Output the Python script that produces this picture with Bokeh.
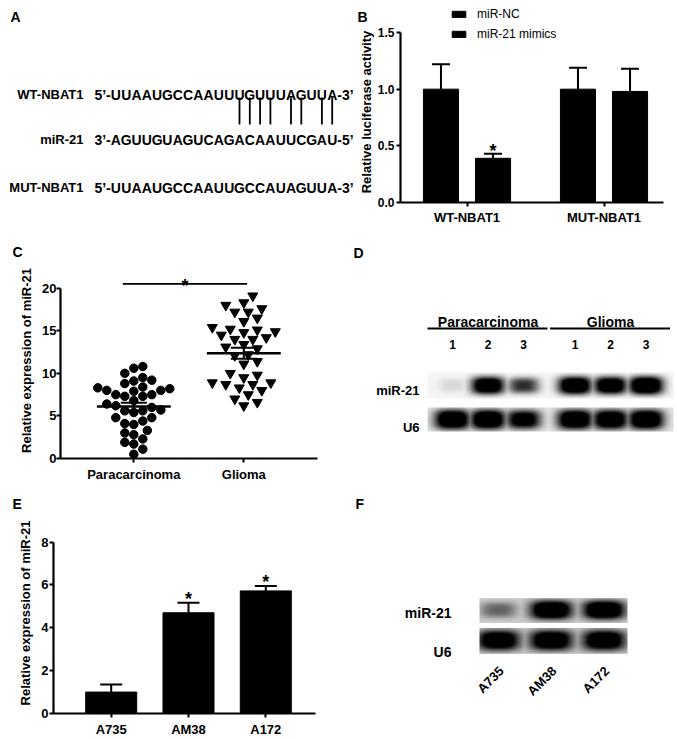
import numpy as np
from bokeh.plotting import figure
from bokeh.layouts import column, row
from bokeh.models import (Range1d, FixedTicker, Legend, LegendItem,
                          LinearColorMapper, PrintfTickFormatter)
from bokeh.palettes import Greys256
from bokeh.core.properties import value
from bokeh.embed import file_html
from bokeh.resources import INLINE

FONT = "Liberation Sans"
BLACK = "#000000"

# ---------------- data ----------------
# Panel A: sequences
a_names = ["WT-NBAT1", "miR-21", "MUT-NBAT1"]
a_prefix = ["5\u2019-", "3\u2019-", "5\u2019-"]
a_suffix = ["-3\u2019", "-5\u2019", "-3\u2019"]
a_seqs = ["UUAAUGCCAAUUUGUUUAGUUA",
          "AGUUGUAGUCAGACAAUUCGAU",
          "UUAAUGCCAAUUGCCAUAGUUA"]
a_pairs = [13, 14, 15, 16, 18, 19, 21, 22]

# Panel B: luciferase
b_groups = ["WT-NBAT1", "MUT-NBAT1"]
b_series = ["miR-NC", "miR-21 mimics"]
b_ylabel = "Relative luciferase activity"
b_nc = [1.00, 1.00]
b_nc_err = [0.22, 0.19]
b_mimic = [0.39, 0.98]
b_mimic_err = [0.04, 0.20]
b_mimic_star = [True, False]

# Panel C: tissue expression
c_groups = ["Paracarcinoma", "Glioma"]
c_para = [10.8, 10.6, 10.0, 9.5, 9.2, 9.1, 8.8, 8.2, 7.9, 8.3, 8.4, 8.0, 8.0,
          7.5, 7.3, 7.3, 7.5, 6.8, 6.4, 6.2, 5.7, 5.6, 6.0, 5.4, 5.6, 4.8,
          4.8, 4.4, 4.1, 4.0, 3.3, 3.0, 2.8, 2.3, 1.7, 1.9, 1.1, 0.5]
c_glioma = [19.1, 18.3, 18.0, 17.2, 17.6, 17.2, 16.5, 16.1, 15.4, 15.1, 15.2,
            14.8, 14.9, 14.2, 14.0, 14.0, 14.5, 12.9, 13.4, 13.1, 12.1, 12.2,
            11.1, 11.4, 9.8, 9.5, 10.0, 8.9, 8.7, 8.9, 8.3, 8.7, 8.0, 7.5,
            7.0, 6.6, 6.2]
c_mean = [6.1, 12.35]
c_sem = [0.45, 0.65]
c_sig_y = 20.5

# Panel D: northern blot (band intensities 0..1)
d_groups = ["Paracarcinoma", "Glioma"]
d_lanes = ["1", "2", "3", "1", "2", "3"]
d_rows = ["miR-21", "U6"]
d_mir21 = [0.08, 0.90, 0.55, 0.95, 0.90, 1.00]
d_u6 = [0.95, 0.95, 0.80, 0.95, 0.92, 0.95]

# Panel E: cell lines
e_cells = ["A735", "AM38", "A172"]
e_vals = [1.00, 4.70, 5.72]
e_err = [0.35, 0.47, 0.23]
e_star = [False, True, True]

# Panel F: northern blot of cell lines
f_cells = ["A735", "AM38", "A172"]
f_rows = ["miR-21", "U6"]
f_mir21 = [0.35, 1.00, 1.00]
f_u6 = [0.90, 0.92, 0.92]


# ---------------- helpers ----------------
def make_fig(w, h, xr, yr, left=0, right=0, top=0, bottom=0, axes=True):
    kw = {} if axes else dict(x_axis_type=None, y_axis_type=None)
    p = figure(width=w, height=h, x_range=xr, y_range=yr, output_backend="svg",
               toolbar_location=None, min_border_left=left, min_border_right=right,
               min_border_top=top, min_border_bottom=bottom, **kw)
    p.outline_line_color = None
    p.background_fill_color = "white"
    p.border_fill_color = "white"
    if axes:
        p.xgrid.visible = False
        p.ygrid.visible = False
    return p


def txt(p, x, y, t, size="13px", align="left", baseline="alphabetic",
        angle=0.0, bold=True, y_offset=0):
    p.text(x=x, y=y, text=t, text_font=value(FONT), text_font_size=value(size),
           text_font_style="bold" if bold else "normal", text_align=align,
           text_baseline=baseline, angle=angle, text_color=BLACK, y_offset=y_offset)


def style_axis(ax, tick_size="13px", label_size="13px", standoff=2, lab_standoff=5):
    ax.axis_line_width = 2.2
    ax.axis_line_color = BLACK
    ax.major_tick_line_width = 2
    ax.major_tick_line_color = BLACK
    ax.major_tick_out = 4
    ax.major_tick_in = 0
    ax.minor_tick_line_color = None
    ax.major_label_standoff = standoff
    ax.major_label_text_font = FONT
    ax.major_label_text_font_style = "bold"
    ax.major_label_text_font_size = tick_size
    ax.major_label_text_color = BLACK
    ax.axis_label_standoff = lab_standoff
    ax.axis_label_text_font = FONT
    ax.axis_label_text_font_style = "bold"
    ax.axis_label_text_font_size = label_size
    ax.axis_label_text_color = BLACK


def panel_title(p, letter, offset, standoff):
    p.title.text = letter
    p.title.align = "left"
    p.title.offset = offset
    p.title.standoff = standoff
    p.title.text_font = FONT
    p.title.text_font_size = "14px"
    p.title.text_font_style = "bold"
    p.title.text_color = BLACK


CMAP = LinearColorMapper(palette=Greys256, low=0, high=1)


def blot(p, centers, intens, x0, x1, y_top, y_bot, bg, hw, hh):
    W = int(round(x1 - x0))
    H = int(round(y_bot - y_top))
    xs = x0 + np.arange(W) + 0.5
    ys = np.arange(H) + 0.5 - H / 2.0
    dark = np.zeros((H, W))
    for c, inten in zip(centers, intens):
        w = hw * (0.8 + 0.2 * inten)
        h = hh * (0.75 + 0.25 * inten)
        prof = (np.exp(-(np.abs(xs - c) / w) ** 3)[None, :] *
                np.exp(-(np.abs(ys) / h) ** 3)[:, None])
        dark = np.maximum(dark, np.clip(1.5 * inten * prof, 0, 1))
    img = bg * (1 - dark)
    p.image(image=[img], x=x0, y=-y_bot, dw=W, dh=H, color_mapper=CMAP)


STAR = "18px"

# Layout geometry in page pixels (the page fills the 677 x 739 window)
PAGE_W = 677
ROW1_TOP, ROW1_BOT = 0, 232
ROW2_TOP, ROW2_BOT = 232, 490
ROW3_TOP, ROW3_BOT = 490, 739
SPLIT1, SPLIT2 = 374, 340

# ---------------- panel A (also carries the "B" letter and B's y title) -------
B_BOT = 30
pa = make_fig(SPLIT1, ROW1_BOT - ROW1_TOP, Range1d(0, SPLIT1),
              Range1d(-(ROW1_BOT - B_BOT), -ROW1_TOP), bottom=B_BOT, axes=False)
txt(pa, [10, 357], [-16, -16], ["A", "B"], size="14px")
txt(pa, [365.5], [-111.5], [b_ylabel], size="13px", align="center",
    baseline="middle", angle=np.pi / 2)
A_BASE = [94, 139, 187]
NT_STEP = 10.3
NT_X13 = 239.0


def nt_x(i):
    return NT_X13 + (i - 13) * NT_STEP


for r in range(len(a_names)):
    yb = -A_BASE[r]
    seq = a_seqs[r]
    txt(pa, [83], [yb], [a_names[r]], size="13px", align="right")
    xs = [nt_x(i + 1) for i in range(len(seq))]
    txt(pa, xs, [yb] * len(seq), list(seq), size="14px", align="center")
    txt(pa, [xs[0] - NT_STEP / 2], [yb], [a_prefix[r]], size="14px", align="right")
    txt(pa, [xs[-1] + NT_STEP / 2], [yb], [a_suffix[r]], size="14px", align="left")
pair_x = [nt_x(i) for i in a_pairs]
pa.segment(x0=pair_x, y0=[-97] * len(pair_x), x1=pair_x, y1=[-124] * len(pair_x),
           line_width=1.8, line_color=BLACK)

# ---------------- panel B ----------------
B_PX, B_YPX = 137.0, 113.33
B_LEFT, B_RIGHT, B_TOP = 400 - SPLIT1, PAGE_W - 663, 0
B_W, B_H = PAGE_W - SPLIT1, ROW1_BOT - ROW1_TOP
b_frame_w = B_W - B_LEFT - B_RIGHT
b_frame_h = B_H - B_TOP - B_BOT
bx0 = 1 - 66.5 / B_PX
pb = make_fig(B_W, B_H, Range1d(bx0, bx0 + b_frame_w / B_PX),
              Range1d(0, b_frame_h / B_YPX), left=B_LEFT, right=B_RIGHT,
              top=B_TOP, bottom=B_BOT)
bxg = np.arange(1, len(b_groups) + 1)
B_OFF, B_BW = 0.19, 0.256
r_nc = pb.vbar(x=bxg - B_OFF, top=b_nc, width=B_BW, fill_color=BLACK, line_color=BLACK)
r_mi = pb.vbar(x=bxg + B_OFF, top=b_mimic, width=B_BW, fill_color=BLACK, line_color=BLACK)
for xs_, v_, e_ in [(bxg - B_OFF, b_nc, b_nc_err), (bxg + B_OFF, b_mimic, b_mimic_err)]:
    top_ = np.array(v_) + np.array(e_)
    pb.segment(x0=xs_, y0=v_, x1=xs_, y1=top_, line_width=2, line_color=BLACK)
    pb.scatter(x=xs_, y=top_, marker="dash", size=18, line_width=2, line_color=BLACK)
star_x = [x + B_OFF for x, s in zip(bxg, b_mimic_star) if s]
star_y = [v + e for v, e, s in zip(b_mimic, b_mimic_err, b_mimic_star) if s]
txt(pb, star_x, star_y, ["*"] * len(star_x), size=STAR, align="center", y_offset=-3)
pb.xaxis.ticker = FixedTicker(ticks=[int(i) for i in bxg])
pb.xaxis.major_label_overrides = {int(i): g for i, g in zip(bxg, b_groups)}
pb.yaxis.ticker = FixedTicker(ticks=[0, 0.5, 1.0, 1.5])
pb.yaxis.formatter = PrintfTickFormatter(format="%.1f")
pb.yaxis.bounds = (0, 1.5)
style_axis(pb.xaxis[0], tick_size="13px", standoff=3)
style_axis(pb.yaxis[0], tick_size="12px", standoff=2)
legend = Legend(items=[LegendItem(label=b_series[0], renderers=[r_nc]),
                       LegendItem(label=b_series[1], renderers=[r_mi])],
                location=(50, b_frame_h - 41), glyph_width=17, glyph_height=8,
                label_text_font=FONT, label_text_font_size="12px",
                label_text_color=BLACK, label_standoff=10, spacing=6,
                padding=0, margin=0, label_height=14,
                border_line_color=None, background_fill_alpha=0)
pb.add_layout(legend)

# ---------------- panel C ----------------
C_XPX, C_YPX = 110.0, 8.515
C_LEFT, C_RIGHT, C_TOP, C_BOT = 60, 23, 30, 32
C_W, C_H = SPLIT2, ROW2_BOT - ROW2_TOP
cx0 = 1 - 73.3 / C_XPX
pc = make_fig(C_W, C_H, Range1d(cx0, cx0 + (C_W - C_LEFT - C_RIGHT) / C_XPX),
              Range1d(0, (C_H - C_TOP - C_BOT) / C_YPX),
              left=C_LEFT, right=C_RIGHT, top=C_TOP, bottom=C_BOT)
panel_title(pc, "C", -48, 5)


def swarm(vals, d=9.0, step=4.5):
    vals = np.asarray(vals, dtype=float)
    order = np.argsort(vals)
    placed = []
    offs = np.zeros(len(vals))
    cands = [0.0] + [s * m * step for m in range(1, 40) for s in (1, -1)]
    for i in order:
        y = vals[i] * C_YPX
        for c in cands:
            if all((c - px) ** 2 + (y - py) ** 2 >= d * d for px, py in placed):
                break
        placed.append((c, y))
        offs[i] = c
    return offs / C_XPX


pc.scatter(x=1 + swarm(c_para), y=c_para, marker="circle", size=8.5,
           fill_color=BLACK, line_color=BLACK)
pc.scatter(x=2 + swarm(c_glioma, d=10.0), y=c_glioma, marker="inverted_triangle",
           size=10, fill_color=BLACK, line_color=BLACK)
cxg = [1, 2]
pc.segment(x0=[x - 0.336 for x in cxg], y0=c_mean, x1=[x + 0.336 for x in cxg],
           y1=c_mean, line_width=2.5, line_color=BLACK)
lo = [m - s for m, s in zip(c_mean, c_sem)]
hi = [m + s for m, s in zip(c_mean, c_sem)]
pc.segment(x0=cxg, y0=lo, x1=cxg, y1=hi, line_width=2, line_color=BLACK)
pc.scatter(x=cxg + cxg, y=lo + hi, marker="dash", size=26, line_width=2, line_color=BLACK)
pc.segment(x0=[0.9], y0=[c_sig_y], x1=[2.03], y1=[c_sig_y], line_width=1.8, line_color=BLACK)
txt(pc, [1.465], [c_sig_y], ["*"], size=STAR, align="center", y_offset=2)
pc.xaxis.ticker = FixedTicker(ticks=cxg)
pc.xaxis.major_label_overrides = {i: g for i, g in zip(cxg, c_groups)}
pc.yaxis.ticker = FixedTicker(ticks=[0, 5, 10, 15, 20])
pc.yaxis.bounds = (0, 20)
pc.yaxis.axis_label = "Relative expression of miR-21"
style_axis(pc.xaxis[0], tick_size="13px", standoff=4)
style_axis(pc.yaxis[0], tick_size="13px", standoff=0)

# ---------------- panel D ----------------
D_W = PAGE_W - SPLIT2
pd_ = make_fig(D_W, C_H, Range1d(SPLIT2, PAGE_W),
               Range1d(-(ROW2_BOT - C_BOT), -(ROW2_TOP + C_TOP)),
               top=C_TOP, bottom=C_BOT, axes=False)
panel_title(pd_, "D", 13, 3)
D_LANE0, D_STEP, D_GAP = 452.0, 35.5, 16.0
d_x = [D_LANE0 + j * D_STEP + (j // 3) * D_GAP for j in range(len(d_lanes))]
g_first = [d_x[0], d_x[3]]
g_last = [d_x[2], d_x[5]]
pd_.segment(x0=[a - 25 for a in g_first], y0=[-328, -328],
            x1=[b + 24 for b in g_last], y1=[-328, -328], line_width=2, line_color=BLACK)
txt(pd_, [(a + b) / 2 for a, b in zip(g_first, g_last)], [-321, -321], d_groups,
    size="14px", align="center")
txt(pd_, d_x, [-344] * len(d_x), d_lanes, size="12px", align="center")
txt(pd_, [419, 419], [-390, -427], d_rows, size="13px", align="right")
blot(pd_, d_x, d_mir21, 427, 673, 372, 398, 0.96, 17, 9)
blot(pd_, d_x, d_u6, 427, 673, 407, 431, 0.90, 18, 10)

# ---------------- panel E ----------------
E_XPX, E_YPX = 77.3, 21.54
E_LEFT, E_RIGHT, E_TOP, E_BOT = 53, 25, 22, 25
E_W, E_H = SPLIT2, ROW3_BOT - ROW3_TOP
ex0 = 1 - 57.7 / E_XPX
pe = make_fig(E_W, E_H, Range1d(ex0, ex0 + (E_W - E_LEFT - E_RIGHT) / E_XPX),
              Range1d(0, (E_H - E_TOP - E_BOT) / E_YPX),
              left=E_LEFT, right=E_RIGHT, top=E_TOP, bottom=E_BOT)
panel_title(pe, "E", -41, 2)
exg = list(range(1, len(e_cells) + 1))
pe.vbar(x=exg, top=e_vals, width=0.66, fill_color=BLACK, line_color=BLACK)
e_top = [v + e for v, e in zip(e_vals, e_err)]
pe.segment(x0=exg, y0=e_vals, x1=exg, y1=e_top, line_width=2, line_color=BLACK)
pe.scatter(x=exg, y=e_top, marker="dash", size=22, line_width=2, line_color=BLACK)
sx_ = [x for x, s in zip(exg, e_star) if s]
sy_ = [t for t, s in zip(e_top, e_star) if s]
txt(pe, sx_, sy_, ["*"] * len(sx_), size=STAR, align="center", y_offset=-4)
pe.xaxis.ticker = FixedTicker(ticks=exg)
pe.xaxis.major_label_overrides = {i: c for i, c in zip(exg, e_cells)}
pe.yaxis.ticker = FixedTicker(ticks=[0, 2, 4, 6, 8])
pe.yaxis.bounds = (0, 8)
pe.yaxis.axis_label = "Relative expression of miR-21"
style_axis(pe.xaxis[0], tick_size="13px", standoff=4)
style_axis(pe.yaxis[0], tick_size="13px", standoff=1)

# ---------------- panel F ----------------
pf = make_fig(D_W, E_H, Range1d(SPLIT2, PAGE_W),
              Range1d(-(ROW3_BOT - E_BOT), -(ROW3_TOP + E_TOP)),
              top=E_TOP, bottom=E_BOT, axes=False)
panel_title(pf, "F", 15, 2)
F_LANE0, F_STEP = 498.0, 52.7
f_x = [F_LANE0 + j * F_STEP for j in range(len(f_cells))]
txt(pf, [451, 451], [-613, -652.5], f_rows, size="14px", align="right")
blot(pf, f_x, f_mir21, 479, 627, 598, 623, 0.80, 21, 9)
blot(pf, f_x, f_u6, 479, 627, 628, 654, 0.78, 22, 10)
txt(pf, [x + 3 for x in f_x], [-669] * len(f_x), f_cells, size="13px",
    align="right", baseline="middle", angle=np.pi / 4)

layout = column(row(pa, pb), row(pc, pd_), row(pe, pf))
open("out.html", "w").write(file_html(layout, INLINE))
